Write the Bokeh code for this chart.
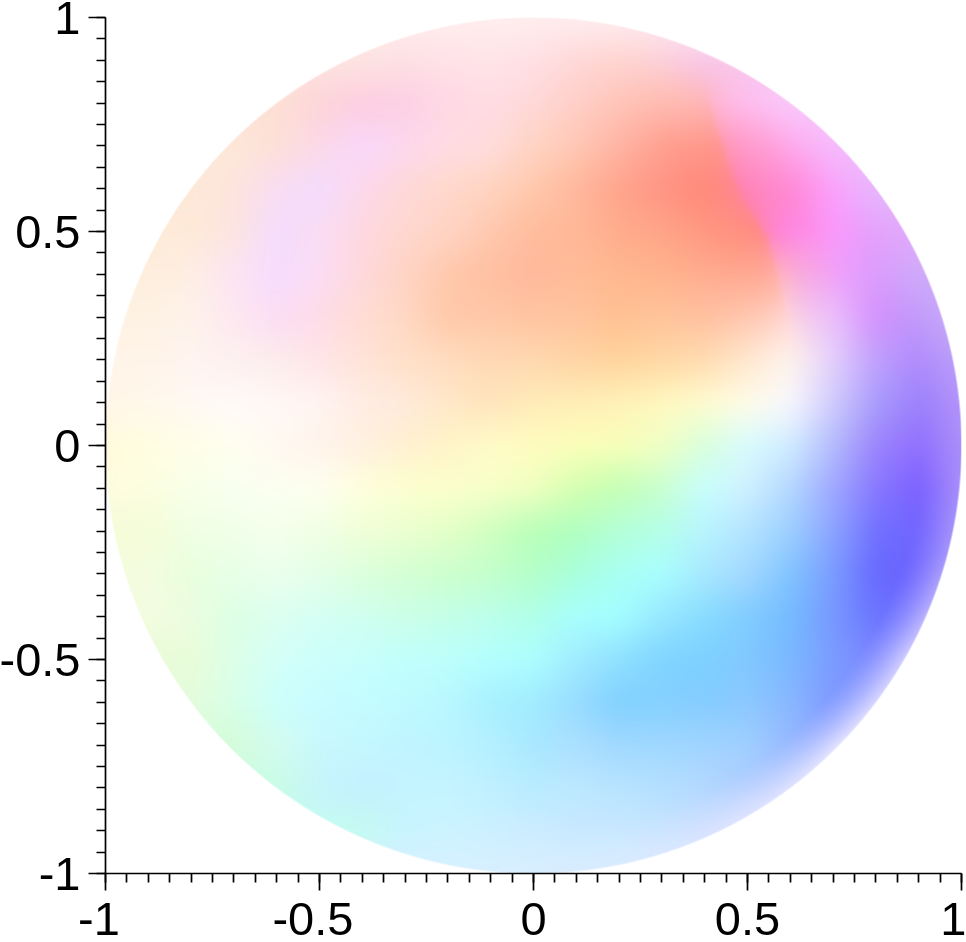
import numpy as np
from bokeh.plotting import figure
from bokeh.models import FixedTicker
from bokeh.embed import file_html
from bokeh.resources import INLINE

major_ticks = [-1, -0.5, 0, 0.5, 1]
minor_ticks = [round(-1 + 0.05 * i, 2) for i in range(41)]
x_tick_labels = ["-1\u00a0", "-0.5\u00a0", "0", "0.5", "1"]
y_tick_labels = ["-1", "-0.5", "0", "0.5", "1"]

# Colours, rows from y=1 to y=-1 every 0.1, centred on x=0, columns every 0.1.
colour_rows = [
 "ffeeee",
 "fde4e0 fde0e4 ffe2e8 ffe4e8 ffe0e4 ffd8d8 ffd4d0 fcd0d8 f8c4e8",
 "fde0d4 fdd4d8 fecde0 fdcfe4 ffd8e4 ffdce4 ffd8d8 ffcfc8 ffc4b8 ffbcb0 ffb4b8 ffbcf0 fcc8fc",
 "fde8d8 fde0d8 fbd8e8 f8d8fc fcd8ee ffdce4 ffdcdc ffd4c4 ffc8b4 ffb4a4 ffa090 ff9488 ff98c4 ffa8ec f8b8fc",
 "fde8d8 fde4dc fadcf4 f4dcfe fcd8ec fed8d8 ffd8cc ffd4c0 ffc8ac ffb89c ffa48c ff9484 ff8878 ff80b0 ff88d4 fca0fc e8b4fc",
 "feead8 fde4e0 f4dcfe fadcf4 fed8e0 ffd8d0 ffd4c4 ffc8b0 ffbc9c ffb898 ffac8c ffa488 ff9880 ff8a7c ff80dc fb98fc e4a0fc",
 "feeedc fdeee4 fce4f4 f6dcfe fbdcf4 fed8dc ffd4c4 ffc8ac ffc0a0 ffb89c ffbc98 ffb890 ffb48c ffac90 ffa890 ffb4c0 f0a0fc dc9cfc cca8fa",
 "fef2e4 fef2e4 fef2ea fde8f0 fcdcf4 fedce8 ffdcd4 ffd8c4 ffc8a8 ffc8a8 ffc4a0 ffc4a0 ffc090 ffc49c ffc0a0 ffc8b0 ffd8dc ecc0fc d490fc c098fb c4a8f8",
 "fff4e8 fff4e8 fff4f0 fdf0f0 fcecec ffe4e8 ffe4d8 ffe0c8 ffdcc0 ffd8b4 ffd8b0 ffd4a4 ffd49c ffd8a4 ffdcb0 ffe8d0 fff4ec e4d0fc c0a0fc b08afc b098fa",
 "fff6e8 fff8ec fff8f2 fffaf8 fff8f6 fff4f0 ffece4 ffeadc ffe8c8 ffe4bc ffecb8 ffeeb8 fff2b8 fff8c0 fffcd0 fffce8 f8f8ff d0ccfc a89cfc 9c80fc a888fa",
 "fffcdc fffde0 fffee8 fffff0 fff8f0 fff4ec fff0e0 fff0d0 fff4c8 fffcc8 fffcc0 fcffb8 f8ffb8 f0ffc4 d8ffdc d8fcff d0ecff b4bcfc 9c84fc 9070ff a084fa",
 "fffce0 fcfee0 f8ffe8 f8fff0 fcfff0 fefff0 feffdc fcffd0 fcffcc f8ffc8 f0ffc0 d4ffb0 c4ffb4 c8ffd0 c8ffff d0f0ff b4d8ff a0a8ff 8878ff 7c60ff 9078fc",
 "f4fcd8 f4fcd8 f0ffe4 f0ffe8 f4ffec f0ffe4 f0ffd8 ecffd0 e4ffc8 d0ffc0 b8ffb8 b0ffc0 b4ffd8 b4ffe8 b8f4ff b4e4ff 9cd0ff 8ca4ff 7070ff 7064ff 8070fc",
 "f4fce0 f4fce0 e8ffdc e8ffe8 ecffec e4ffe8 dcffdc d4ffd4 ccffcc c4ffcc b4ffc8 a8ffdc a8fff4 a8ffff a8e8ff a4d8ff 80c4ff 7a9cff 6868ff 6a62ff 7870fc",
 "f4fce0 ecfde0 dcffe4 dcfff0 d4fff4 d0fff0 ccffe8 c4ffe8 bcffec b0ffe8 a8ffff a4ffff 98e8ff 88dcff 80ccff 74bcff 7898ff 6a74ff 7070ff",
 "e8fcd8 dcffe8 d4fff8 ccfffc c8fffc c0fffc bcfffc b4ffff acffff a0ecff 90e0ff 80d4ff 7cd0ff 80c8ff 7ab8ff 7a9cff 7c84ff",
 "e4fcdc d8ffe8 ccfffc c8fcff c4fcff c0faff b8f8ff a8f0ff a0ecff 98dcff 80d0ff 84d0ff 84ccff 8cc8ff 88b8ff 8098ff 8090ff",
 "d4fcd8 d4fcf0 c8f8fc c4f8ff c0f4ff bcf4ff b4f0ff a8e8ff acdfff a0d8ff a0d8ff a0d4ff a0d0ff 98b8ff 90a0ff",
 "c8fce4 c8f4fc c4f0ff c4f4ff c4f4ff c0f0ff b8ecff bce8ff b8e4ff b4e0ff b4d8ff b0ccff a8c0ff",
 "c4fcf0 c8f4ff ccf4ff ccf0ff ccecff c8e8ff c8e8ff c8e4ff c8dcff",
 "d8f0ff",
]

# Colours along the rim of the disc, by angle in degrees.
rim_angles = [-105, -80, -60, -45, -30, -15, 0, 15, 30, 60, 100]
rim_colours = ["d8f0ff", "dce8ff", "e0e4ff", "e4e4ff", "d8d4ff", "b8a8fc", "b898fa", "c8a8f8", "dcb8fa", "f8d0fc", "fff0f4"]
rim_strength = [0, 0.5, 0.9, 1, 0.9, 0.7, 0.5, 0.4, 0.3, 0.2, 0]

# The crease between the red and the magenta areas.
crease_y = [0.22, 0.30, 0.376, 0.486, 0.572, 0.666, 0.806, 0.88]
crease_x = [0.61, 0.593, 0.577, 0.547, 0.491, 0.453, 0.406, 0.39]


def rgb(c):
    return [int(c[i:i + 2], 16) for i in (0, 2, 4)]


def control_grid(rows):
    out = np.zeros((21, 21, 3))
    for r, row in enumerate(rows):
        cells = row.split()
        pad = (21 - len(cells)) // 2
        cells = [cells[0]] * pad + cells + [cells[-1]] * pad
        out[20 - r] = [rgb(c) for c in cells]
    return out


def blur(a, n, axis):
    pad = [(0, 0)] * a.ndim
    pad[axis] = (n + 1, n)
    c = np.cumsum(np.pad(a, pad, mode="edge"), axis=axis)
    return (np.take(c, range(2 * n + 1, c.shape[axis]), axis=axis)
            - np.take(c, range(0, c.shape[axis] - 2 * n - 1), axis=axis)) / (2 * n + 1)


N = 856
grid = control_grid(colour_rows)
coords = (np.arange(N) + 0.5) / N * 2 - 1
fx = np.clip((coords + 1) * 10, 0, 19.9999)
ix = fx.astype(int)
tx = (fx - ix)[:, None]
rows_hi = grid[:, ix] * (1 - tx) + grid[:, ix + 1] * tx
img = rows_hi[ix] * (1 - tx)[:, None] + rows_hi[ix + 1] * tx[:, None]
for _ in range(2):
    img = blur(blur(img, 11, 0), 11, 1)

# Tighten the colour change across the crease.
band = 0.11
for j, yv in enumerate(coords):
    if crease_y[0] <= yv <= crease_y[-1]:
        x0 = np.interp(yv, crease_y, crease_x)
        g = 1 - 0.42 * np.interp(yv, [0.22, 0.34, 0.8, 0.88], [0, 1, 1, 0])
        d = coords - x0
        near = np.abs(d) < band
        d2 = d.copy()
        d2[near] = np.sign(d[near]) * band * (np.abs(d[near]) / band) ** g
        img[j] = np.stack([np.interp(x0 + d2, coords, img[j, :, k]) for k in range(3)], axis=1)

xx, yy = np.meshgrid(coords, coords)
rad = np.hypot(xx, yy)
ang = np.degrees(np.arctan2(yy, xx))
rim_rgb = np.array([rgb(c) for c in rim_colours], dtype=float)
rim = np.dstack([np.interp(ang, rim_angles, rim_rgb[:, k]) for k in range(3)])
t = (np.clip((rad - 0.9) / 0.1, 0, 1) ** 1.5 * np.interp(ang, rim_angles, rim_strength, left=0, right=0))[..., None]
img = img * (1 - t) + rim * t

alpha = np.clip((1 - rad) * N / 2 + 0.5, 0, 1) * 255
rgba = np.dstack([img, alpha]).round().astype(np.uint32)
view = rgba[..., 0] | rgba[..., 1] << 8 | rgba[..., 2] << 16 | rgba[..., 3] << 24

p = figure(frame_width=856, frame_height=856, output_backend="svg", toolbar_location=None,
           x_range=(-1, 1), y_range=(-1, 1),
           min_border_left=0, min_border_right=5, min_border_top=17, min_border_bottom=0)
p.styles = {"position": "fixed", "left": "-4px", "top": "0px"}
p.outline_line_color = None
p.grid.visible = False
p.background_fill_color = "white"
p.image_rgba(image=[view.astype(np.uint32)], x=-1, y=-1, dw=2, dh=2)

for ax in (p.xaxis[0], p.yaxis[0]):
    ax.ticker = FixedTicker(ticks=major_ticks, minor_ticks=minor_ticks)
    ax.axis_line_color = "black"
    ax.axis_line_width = 1.7
    ax.major_tick_line_color = "black"
    ax.major_tick_line_width = 1.7
    ax.minor_tick_line_color = "black"
    ax.minor_tick_line_width = 1.7
    ax.major_tick_in = 0
    ax.major_tick_out = 17
    ax.minor_tick_in = 0
    ax.minor_tick_out = 9
    ax.major_label_text_font = "Liberation Sans"
    ax.major_label_text_font_size = "47px"
    ax.major_label_text_color = "black"

p.yaxis[0].major_label_overrides = dict(zip(major_ticks, y_tick_labels))
p.yaxis[0].major_label_standoff = 8
p.xaxis[0].major_label_overrides = dict(zip(major_ticks, x_tick_labels))
p.xaxis[0].major_label_standoff = 1

open("out.html", "w").write(file_html(p, INLINE))
